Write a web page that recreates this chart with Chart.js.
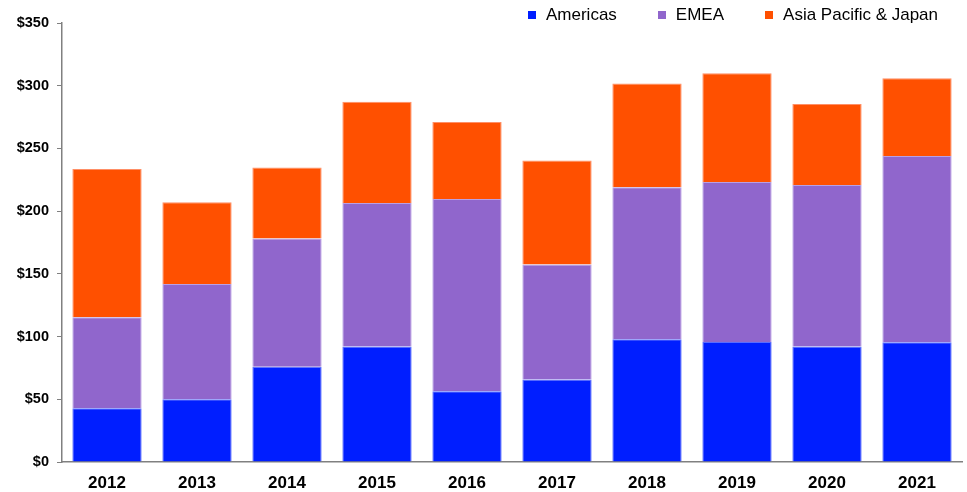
<!DOCTYPE html>
<html>
<head>
<meta charset="utf-8">
<script src="https://cdn.jsdelivr.net/npm/chart.js@4/dist/chart.umd.min.js"></script>
<style>
  html, body { margin: 0; padding: 0; background: #fff; }
  #wrap { position: relative; width: 967px; height: 492px; }
  #legend { position: absolute; top: 5px; left: 528px; display: flex; align-items: center;
    font-family: Arial, "Liberation Sans", sans-serif; font-size: 17px; color: #000; }
  #legend .item { display: flex; align-items: center; margin-right: 41px; }
  #legend .item:last-child { margin-right: 0; }
  #legend .sw { width: 8px; height: 8px; margin-right: 10px; }
</style>
</head>
<body>
<div id="wrap">
  <canvas id="chart" width="967" height="492"></canvas>
  <div id="legend"></div>
</div>
<script>
const years = ['2012', '2013', '2014', '2015', '2016', '2017', '2018', '2019', '2020', '2021'];
const seriesNames = ['Americas', 'EMEA', 'Asia Pacific & Japan'];
const americas = [42.8, 50.0, 76.0, 92.0, 56.4, 65.7, 97.8, 95.7, 92.0, 95.4];
const emea = [72.6, 91.9, 102.1, 114.5, 153.3, 91.7, 121.2, 127.5, 128.8, 148.6];
const apj = [118.2, 65.1, 56.6, 80.8, 61.4, 82.9, 82.7, 86.7, 64.6, 61.9];
const yTicks = [0, 50, 100, 150, 200, 250, 300, 350];

const colors = ['#001EFF', '#9066CC', '#FF5000'];
const edges = ['#5a6cff', '#b9a0e4', '#ff8f66'];
const values = [americas, emea, apj];

const ctx = document.getElementById('chart').getContext('2d');

const chart = new Chart(ctx, {
  type: 'bar',
  data: {
    labels: years,
    datasets: seriesNames.map((name, i) => ({
      label: name,
      data: values[i],
      backgroundColor: colors[i],
      borderColor: edges[i],
      borderWidth: 1,
      barPercentage: 0.77,
      categoryPercentage: 1
    }))
  },
  options: {
    responsive: false,
    animation: false,
    layout: { padding: { top: 23, right: 5, left: 0, bottom: 0 } },
    plugins: {
      legend: { display: false },
      tooltip: { enabled: false }
    },
    scales: {
      x: {
        stacked: true,
        grid: { display: false },
        border: { display: true, color: '#808080', width: 1.5 },
        ticks: {
          color: '#000',
          padding: 3,
          font: { family: 'Arial, "Liberation Sans", sans-serif', size: 17, weight: 'bold' }
        },
        afterFit: (scale) => { scale.height = 30; }
      },
      y: {
        stacked: true,
        min: 0,
        max: 350,
        afterBuildTicks: (scale) => { scale.ticks = yTicks.map(v => ({ value: v })); },
        grid: { drawOnChartArea: false, tickLength: 5, color: '#808080' },
        border: { display: true, color: '#808080', width: 1.5 },
        ticks: {
          color: '#000',
          padding: 8,
          font: { family: 'Arial, "Liberation Sans", sans-serif', size: 14.5, weight: 'bold' },
          callback: (v) => '$' + v
        },
        afterFit: (scale) => { scale.width = 62; }
      }
    }
  }
});

// html legend
const legendEl = document.getElementById('legend');
seriesNames.forEach((name, i) => {
  const item = document.createElement('div');
  item.className = 'item';
  const sw = document.createElement('span');
  sw.className = 'sw';
  sw.style.background = colors[i];
  const txt = document.createElement('span');
  txt.textContent = name;
  item.appendChild(sw);
  item.appendChild(txt);
  legendEl.appendChild(item);
});
</script>
</body>
</html>
